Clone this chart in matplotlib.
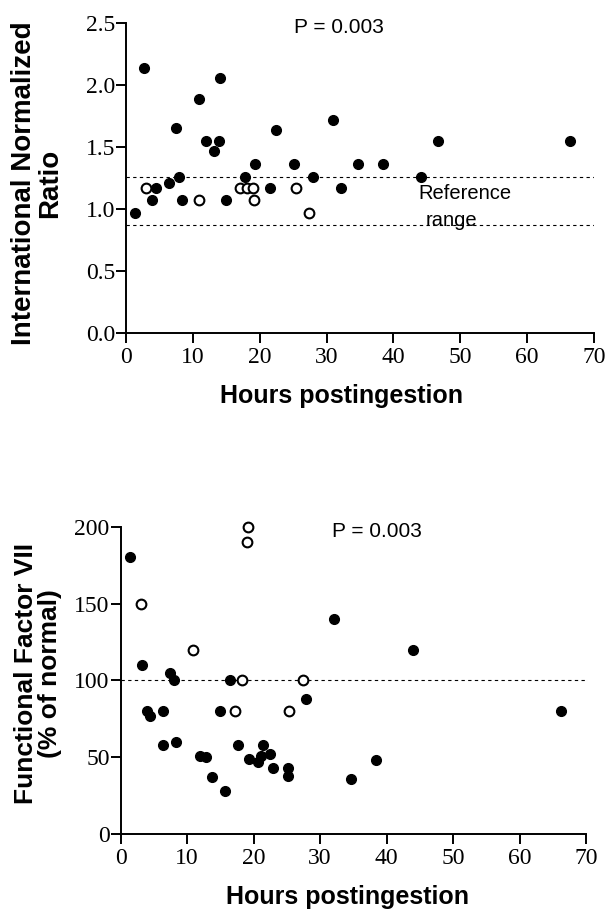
import matplotlib
matplotlib.use("Agg")
import matplotlib.pyplot as plt

# INR panel
inr_filled_h = [1.35, 2.64, 3.94, 4.49, 6.48, 7.48, 7.98, 8.33, 10.87, 12.0, 13.2, 13.86,
                14.0, 15.0, 17.8, 19.35, 21.5, 22.4, 25.1, 27.9, 30.9, 32.1, 34.7, 38.4,
                44.1, 46.7, 66.4]
inr_filled_v = [0.97, 2.14, 1.07, 1.17, 1.21, 1.65, 1.26, 1.07, 1.89, 1.55, 1.47, 1.55,
                2.06, 1.07, 1.26, 1.36, 1.17, 1.64, 1.36, 1.26, 1.72, 1.17, 1.36, 1.36,
                1.26, 1.55, 1.55]
inr_open_h = [3.03, 10.96, 17.1, 18.1, 19.0, 19.1, 25.4, 27.4]
inr_open_v = [1.17, 1.07, 1.17, 1.17, 1.17, 1.07, 1.17, 0.97]
inr_ref = [1.26, 0.87]

# Factor VII panel
f7_filled_h = [1.35, 3.25, 3.9, 4.46, 6.4, 6.4, 7.4, 7.97, 8.32, 11.9, 12.9, 13.8, 14.9,
               15.7, 16.5, 17.7, 19.35, 20.7, 21.1, 21.4, 22.5, 22.9, 25.1, 25.2, 27.9,
               32.1, 34.7, 38.4, 44.0, 66.3]
f7_filled_v = [180, 110, 80, 77, 80, 58, 105, 100, 60, 51, 50, 37, 80,
               28, 100, 58, 49, 47, 51, 58, 52, 43, 43, 38, 88,
               140, 36, 48, 120, 80]
f7_open_h = [3.0, 10.9, 17.15, 18.3, 18.95, 19.1, 25.3, 27.4]
f7_open_v = [150, 120, 80, 100, 190, 200, 80, 100]
f7_ref = [100]

x_ticks = [0, 10, 20, 30, 40, 50, 60, 70]

plt.rcParams["font.family"] = ["Liberation Sans", "DejaVu Sans"]

fig = plt.figure(figsize=(6.05, 9.1), dpi=100)
ax1 = fig.add_axes([0.2083, 0.6344, 0.7735, 0.3400])
ax2 = fig.add_axes([0.1995, 0.0835, 0.7691, 0.3377])


def style(ax):
    for s in ["top", "right"]:
        ax.spines[s].set_visible(False)
    for s in ["left", "bottom"]:
        ax.spines[s].set_linewidth(1.4)
    ax.tick_params(width=1.4, length=7, direction="out", labelsize=17,
                   labelfontfamily="Liberation Serif")
    ax.tick_params(axis="y", pad=1)
    ax.tick_params(axis="x", pad=3)
    ax.set_xlim(0, 70)
    ax.set_xticks(x_ticks)
    ax.set_xlabel("Hours postingestion", fontsize=18, fontweight="bold")


# top
for r in inr_ref:
    ax1.axhline(r, color="black", lw=0.8, ls=(0, (3, 3)), zorder=1)
ax1.plot(inr_filled_h, inr_filled_v, "o", color="black", ms=7, zorder=3, clip_on=False)
ax1.plot(inr_open_h, inr_open_v, "o", mfc="white", mec="black", mew=1.5, ms=7,
         zorder=3, clip_on=False)
ax1.set_ylim(0, 2.5)
ax1.set_yticks([0, 0.5, 1.0, 1.5, 2.0, 2.5])
ax1.set_yticklabels(["0.0", "0.5", "1.0", "1.5", "2.0", "2.5"])
style(ax1)
ax1.set_ylabel("International Normalized\nRatio", fontsize=20, fontweight="bold",
               linespacing=1.0)
ax1.yaxis.set_label_coords(-0.135, 0.482)
ax1.xaxis.set_label_coords(0.46, -0.165)
ax1.text(31.9, 2.47, "P = 0.003", fontsize=15, ha="center", va="center")
ax1.text(43.7, 1.125, "Reference", fontsize=14.5, ha="left", va="center")
ax1.text(44.8, 0.91, "range", fontsize=14.5, ha="left", va="center")

# bottom
for r in f7_ref:
    ax2.axhline(r, color="black", lw=0.8, ls=(0, (3, 3)), zorder=1)
ax2.plot(f7_filled_h, f7_filled_v, "o", color="black", ms=7, zorder=3, clip_on=False)
ax2.plot(f7_open_h, f7_open_v, "o", mfc="white", mec="black", mew=1.5, ms=7,
         zorder=3, clip_on=False)
ax2.set_ylim(0, 200)
ax2.set_yticks([0, 50, 100, 150, 200])
style(ax2)
ax2.set_ylabel("Functional Factor VII\n(% of normal)", fontsize=19, fontweight="bold",
               linespacing=1.0)
ax2.yaxis.set_label_coords(-0.126, 0.522)
ax2.xaxis.set_label_coords(0.487, -0.166)
ax2.text(38.5, 197, "P = 0.003", fontsize=15, ha="center", va="center")

fig.savefig("out.png", dpi=100)
